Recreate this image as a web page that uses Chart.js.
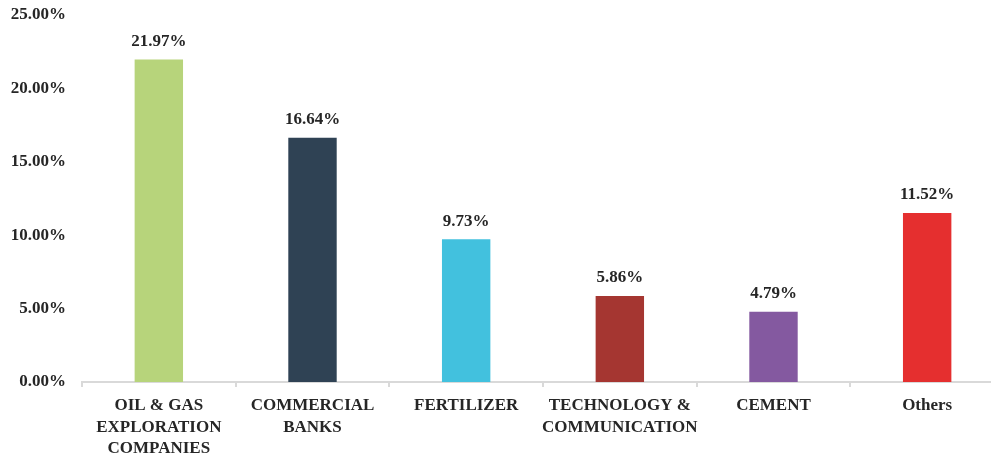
<!DOCTYPE html>
<html>
<head>
<meta charset="utf-8">
<script src="https://cdn.jsdelivr.net/npm/chart.js@4"></script>
<style>
  html, body { margin: 0; padding: 0; background: #fff; overflow: hidden; }
  #wrap { width: 1010px; height: 457px; }
</style>
</head>
<body>
<div id="wrap"><canvas id="chart" width="1010" height="457"></canvas></div>
<script>
// sector weights (percent)
const categories = [
  ['OIL & GAS', 'EXPLORATION', 'COMPANIES'],
  ['COMMERCIAL', 'BANKS'],
  'FERTILIZER',
  ['TECHNOLOGY &', 'COMMUNICATION'],
  'CEMENT',
  'Others'
];
const weights = [21.97, 16.64, 9.73, 5.86, 4.79, 11.52];
const barColors = ['#b7d47b', '#2f4254', '#42c1de', '#a53631', '#8459a0', '#e52f2f'];
const yTicks = [0, 5, 10, 15, 20, 25];

const FONT = '"Liberation Serif", "Times New Roman", serif';
const TEXT = '#262626';

// draws the value above each bar
const valueLabels = {
  id: 'valueLabels',
  afterDatasetsDraw(chart) {
    const ctx = chart.ctx;
    const meta = chart.getDatasetMeta(0);
    ctx.save();
    ctx.font = 'bold 17px ' + FONT;
    ctx.fillStyle = TEXT;
    ctx.textAlign = 'center';
    ctx.textBaseline = 'middle';
    meta.data.forEach((bar, i) => {
      ctx.fillText(weights[i].toFixed(2) + '%', bar.x, bar.y - 18);
    });
    ctx.restore();
  }
};

new Chart(document.getElementById('chart'), {
  type: 'bar',
  data: {
    labels: categories,
    datasets: [{
      data: weights,
      backgroundColor: barColors,
      barPercentage: 0.315,
      categoryPercentage: 1
    }]
  },
  options: {
    responsive: false,
    animation: false,
    layout: { padding: { left: 0, right: 6, top: 15, bottom: 0 } },
    plugins: {
      legend: { display: false },
      tooltip: { enabled: false }
    },
    scales: {
      x: {
        offset: true,
        border: { display: true, color: '#d9d9d9', width: 2 },
        grid: { display: true, drawOnChartArea: false, drawTicks: true, tickLength: 5, color: '#d9d9d9', lineWidth: 2 },
        ticks: {
          autoSkip: false,
          maxRotation: 0,
          padding: 8,
          color: TEXT,
          font: { family: FONT, size: 17, weight: 'bold', lineHeight: 1.26 }
        },
        afterFit(scale) { scale.height = 75; }
      },
      y: {
        min: 0,
        max: 25,
        border: { display: false },
        grid: { display: false, drawTicks: false },
        afterBuildTicks(scale) { scale.ticks = yTicks.map(v => ({ value: v })); },
        ticks: {
          padding: 16,
          color: TEXT,
          font: { family: FONT, size: 17, weight: 'bold' },
          callback: v => v.toFixed(2) + '%'
        },
        afterFit(scale) {
          scale.width = 82;
          scale.paddingTop = 0;
          scale.paddingBottom = 0;
        }
      }
    }
  },
  plugins: [valueLabels]
});
</script>
</body>
</html>
